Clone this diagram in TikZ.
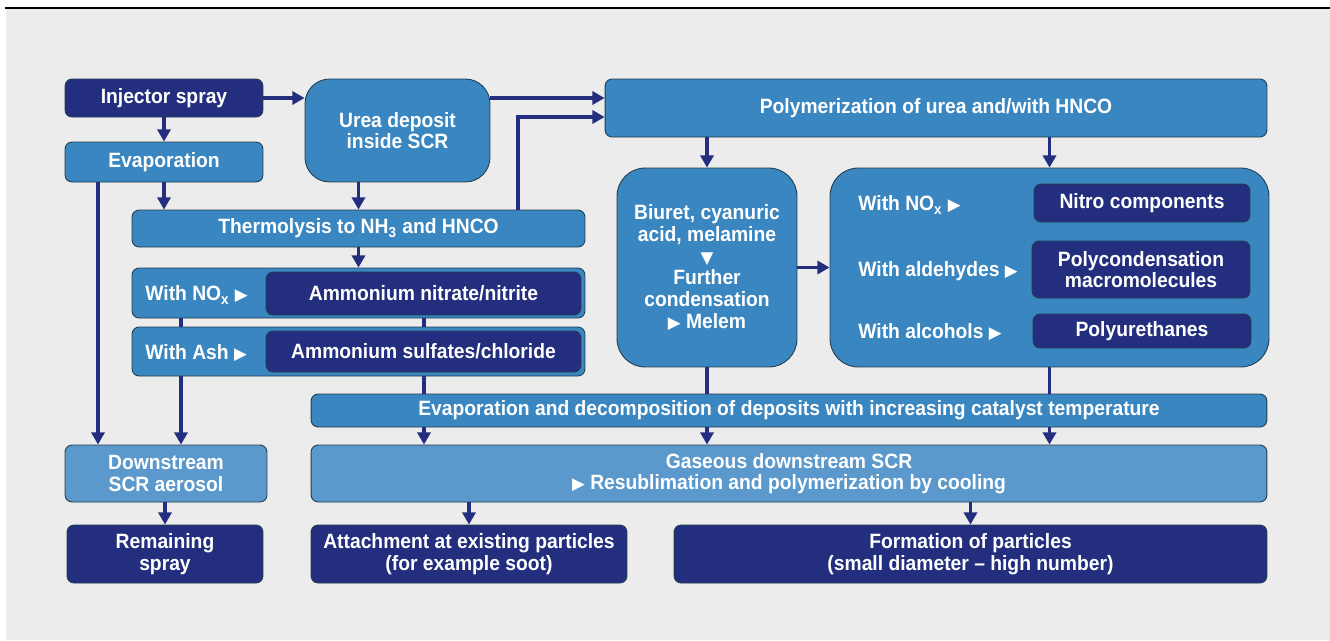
\documentclass[tikz,border=0pt]{standalone}
\usepackage{fontspec}
\setmainfont{Liberation Sans}[FakeStretch=0.93]
\newfontfamily\symfont{DejaVu Sans}
\usetikzlibrary{arrows.meta}

\definecolor{navy}{RGB}{35,47,126}
\definecolor{midblue}{RGB}{58,134,192}
\definecolor{lightblue}{RGB}{91,153,204}
\definecolor{edge}{RGB}{32,62,78}
\definecolor{bggray}{RGB}{236,236,236}

\newcommand{\boxfont}{\fontsize{11.8}{12.3}\selectfont\bfseries}
\newcommand{\rtri}{{\symfont\fontsize{9.5}{9.5}\selectfont ▶}}
\newcommand{\dtri}{{\symfont\fontsize{9.5}{9.5}\selectfont ▼}}

\tikzset{
  box/.style={draw=edge, line width=0.5pt, rounded corners=4pt, text=white,
    align=center, inner sep=0pt, font=\boxfont},
  navybox/.style={box, fill=navy},
  midbox/.style={box, fill=midblue},
  lightbox/.style={box, fill=lightblue},
  lbl/.style={text=white, font=\boxfont, inner sep=0pt, anchor=west},
  arr/.style={draw=navy, line width=2.2pt, -{Triangle[length=7pt,width=7.5pt]}},
  link/.style={draw=navy, line width=2.2pt},
}

\begin{document}
\begin{tikzpicture}[x=0.02cm,y=-0.02cm]
  \useasboundingbox (0,0) rectangle (1330,640);
  \fill[bggray] (6,9) rectangle (1330,640);
  \draw[black, line width=1.1pt] (5,8) -- (1330,8);

  % --- spray and deposit ---
  \node[navybox, minimum width=3.96cm, minimum height=0.76cm] (inj) at (164,98) {Injector spray};
  \node[midbox, minimum width=3.96cm, minimum height=0.8cm] (evap) at (164,162) {Evaporation};
  \node[midbox, rounded corners=14pt, minimum width=3.7cm, minimum height=2.06cm] (urea) at (397.5,130.5) {Urea deposit\\inside SCR};
  \node[midbox, minimum width=13.24cm, minimum height=1.16cm] (poly) at (936,108) {Polymerization of urea and/with HNCO};
  \node[midbox, minimum width=9.06cm, minimum height=0.74cm] (thermo) at (358.5,228.5) {Thermolysis to NH\textsubscript{3} and HNCO};

  % --- reactions of NH3 ---
  \node[midbox, minimum width=9.06cm, minimum height=1.0cm] (noxgrp) at (358.5,293) {};
  \node[navybox, minimum width=6.3cm, minimum height=0.86cm] (noxin) at (423.5,293.5) {Ammonium nitrate/nitrite};
  \node[lbl] (noxlbl) at (145,295) {With NO\textsubscript{x} \rtri};
  \node[midbox, minimum width=9.06cm, minimum height=0.98cm] (ashgrp) at (358.5,351.5) {};
  \node[navybox, minimum width=6.3cm, minimum height=0.82cm] (ashin) at (423.5,351.5) {Ammonium sulfates/chloride};
  \node[lbl] (ashlbl) at (145,353) {With Ash \rtri};

  % --- polymerization products ---
  \node[midbox, rounded corners=16pt, minimum width=3.6cm, minimum height=3.98cm] (biuret) at (707,267.5)
    {Biuret, cyanuric\\acid, melamine\\\dtri\\Further\\condensation\\\rtri\ Melem};
  \node[midbox, rounded corners=16pt, minimum width=8.78cm, minimum height=3.98cm] (rbox) at (1049.5,267.5) {};
  \node[navybox, minimum width=4.32cm, minimum height=0.76cm] (nitro) at (1142,203) {Nitro components};
  \node[navybox, minimum width=4.36cm, minimum height=1.14cm] (polyc) at (1141,269.5) {Polycondensation\\macromolecules};
  \node[navybox, minimum width=4.36cm, minimum height=0.68cm] (puret) at (1142,331) {Polyurethanes};
  \node[lbl] (nitrolbl) at (858,205) {With NO\textsubscript{x} \rtri};
  \node[lbl] (polyclbl) at (858,271) {With aldehydes \rtri};
  \node[lbl] (puretlbl) at (858,332) {With alcohols \rtri};

  % --- downstream ---
  \node[midbox, minimum width=19.12cm, minimum height=0.66cm] (evdec) at (789,410.5)
    {Evaporation and decomposition of deposits with increasing catalyst temperature};
  \node[lightbox, minimum width=4.04cm, minimum height=1.14cm] (down) at (166,473.5) {Downstream\\SCR aerosol};
  \node[lightbox, minimum width=19.12cm, minimum height=1.14cm] (gas) at (789,473.5)
    {Gaseous downstream SCR\\\rtri\ Resublimation and polymerization by cooling};
  \node[navybox, minimum width=3.92cm, minimum height=1.16cm] (remain) at (165,554) {Remaining\\spray};
  \node[navybox, minimum width=6.32cm, minimum height=1.16cm] (attach) at (469,554) {Attachment at existing particles\\(for example soot)};
  \node[navybox, minimum width=11.86cm, minimum height=1.16cm] (form) at (970.5,554) {Formation of particles\\(small diameter -- high number)};

  % --- connectors ---
  \coordinate (colA) at (98,0);
  \coordinate (colB) at (181,0);
  \coordinate (colC) at (424,0);
  \coordinate (tp) at (518,117);
  \draw[arr] (inj.east) -- (inj.east -| urea.west);
  \draw[arr] (inj.south) -- (evap.north);
  \draw[arr] (urea.east |- inj.east) -- (poly.west |- inj.east);
  \draw[arr] (thermo.north -| tp) |- (poly.west |- tp);
  \draw[arr] (evap.south) -- (evap.south |- thermo.north);
  \draw[arr] (urea.south -| thermo.north) -- (thermo.north);
  \draw[arr] (evap.south -| colA) -- (down.north -| colA);
  \draw[arr] (thermo.south) -- (noxgrp.north);
  \draw[link] (noxgrp.south -| colB) -- (ashgrp.north -| colB);
  \draw[link] (noxgrp.south -| colC) -- (ashgrp.north -| colC);
  \draw[arr] (ashgrp.south -| colB) -- (down.north -| colB);
  \draw[link] (ashgrp.south -| colC) -- (evdec.north -| colC);
  \draw[arr] (poly.south -| biuret.north) -- (biuret.north);
  \draw[arr] (poly.south -| rbox.north) -- (rbox.north);
  \draw[arr] (biuret.east) -- (biuret.east -| rbox.west);
  \draw[link] (biuret.south) -- (evdec.north -| biuret.south);
  \draw[link] (rbox.south) -- (evdec.north -| rbox.south);
  \draw[arr] (evdec.south -| colC) -- (gas.north -| colC);
  \draw[arr] (evdec.south -| biuret.south) -- (gas.north -| biuret.south);
  \draw[arr] (evdec.south -| rbox.south) -- (gas.north -| rbox.south);
  \draw[arr] (down.south -| remain.north) -- (remain.north);
  \draw[arr] (gas.south -| attach.north) -- (attach.north);
  \draw[arr] (gas.south -| form.north) -- (form.north);
\end{tikzpicture}
\end{document}
